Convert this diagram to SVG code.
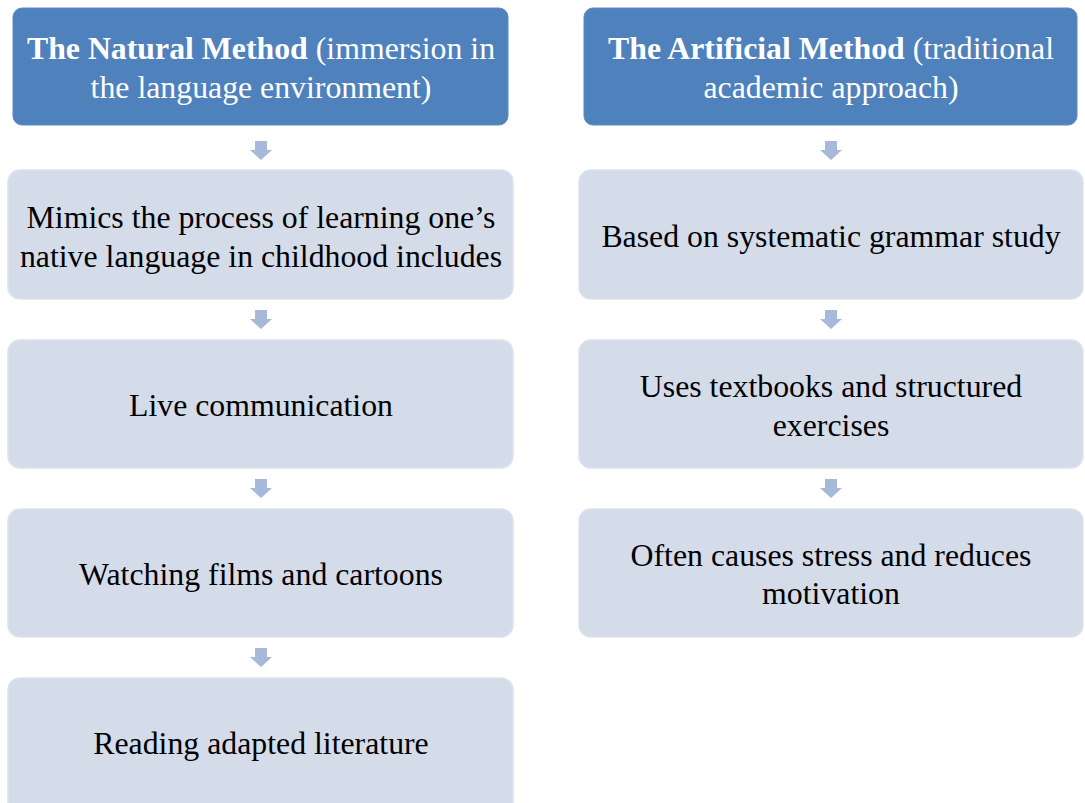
<svg xmlns="http://www.w3.org/2000/svg" width="1085" height="803" viewBox="0 0 1085 803">
<style>
.hdr{fill:#4F81BD;stroke:#5B8AC2;stroke-width:1}
.box{fill:#D5DCE9;stroke:#DCE2EE;stroke-width:1.5}
.ht{font-family:"Liberation Serif",serif;font-size:31.8px;fill:#FFFFFF;text-anchor:middle}
.bt{font-family:"Liberation Serif",serif;font-size:31.8px;fill:#000000;text-anchor:middle}
.b{font-weight:bold}
.arr{fill:#A7B9D9}
</style>
<defs>
<path id="dn" d="M-6,-10 H6 V-1 H11 L0,9 L-11,-1 H-6 Z"/>
</defs>
<rect width="1085" height="803" fill="#FFFFFF"/>
<g id="connectors">
<use href="#dn" class="arr" x="261" y="151"/>
<use href="#dn" class="arr" x="261" y="320"/>
<use href="#dn" class="arr" x="261" y="489"/>
<use href="#dn" class="arr" x="261" y="658"/>
<use href="#dn" class="arr" x="831" y="151"/>
<use href="#dn" class="arr" x="831" y="320"/>
<use href="#dn" class="arr" x="831" y="489"/>
</g>
<g id="natural-header">
<rect class="hdr" x="13" y="8" width="495" height="117" rx="9"/>
<text class="ht" x="261" y="58.5"><tspan class="b">The Natural Method</tspan> (immersion in</text>
<text class="ht" x="261" y="97.5">the language environment)</text>
</g>
<g id="natural-1">
<rect class="box" x="8" y="170" width="505" height="129" rx="12"/>
<text class="bt" x="261" y="227.5">Mimics the process of learning one’s</text>
<text class="bt" x="261" y="266.5">native language in childhood includes</text>
</g>
<g id="natural-2">
<rect class="box" x="8" y="340" width="505" height="128" rx="12"/>
<text class="bt" x="261" y="415.5">Live communication</text>
</g>
<g id="natural-3">
<rect class="box" x="8" y="509" width="505" height="128" rx="12"/>
<text class="bt" x="261" y="584.5">Watching films and cartoons</text>
</g>
<g id="natural-4">
<rect class="box" x="8" y="678" width="505" height="140" rx="12"/>
<text class="bt" x="261" y="753.5">Reading adapted literature</text>
</g>
<g id="artificial-header">
<rect class="hdr" x="584" y="8" width="493" height="117" rx="9"/>
<text class="ht" x="831" y="58.5"><tspan class="b">The Artificial Method</tspan> (traditional</text>
<text class="ht" x="831" y="97.5">academic approach)</text>
</g>
<g id="artificial-1">
<rect class="box" x="579" y="170" width="504" height="129" rx="12"/>
<text class="bt" x="831" y="246.5">Based on systematic grammar study</text>
</g>
<g id="artificial-2">
<rect class="box" x="579" y="340" width="504" height="128" rx="12"/>
<text class="bt" x="831" y="396.5">Uses textbooks and structured</text>
<text class="bt" x="831" y="435.5">exercises</text>
</g>
<g id="artificial-3">
<rect class="box" x="579" y="509" width="504" height="128" rx="12"/>
<text class="bt" x="831" y="565.5">Often causes stress and reduces</text>
<text class="bt" x="831" y="603.5">motivation</text>
</g>
</svg>
